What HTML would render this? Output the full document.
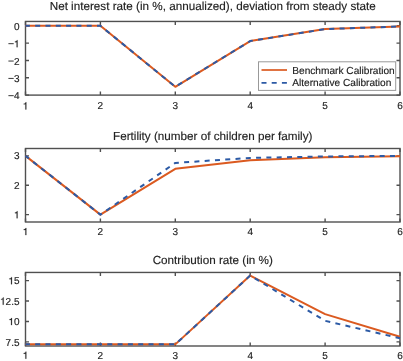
<!DOCTYPE html>
<html><head><meta charset="utf-8"><style>
html,body{margin:0;padding:0;background:#fff;}
svg{display:block;filter:blur(0.35px);}
text{font-family:"Liberation Sans",sans-serif;fill:#222;stroke:#222;stroke-width:0.15px;text-rendering:geometricPrecision;}
</style></head><body>
<svg width="403" height="361" viewBox="0 0 403 361">
<rect width="403" height="361" fill="#fff"/>
<text x="212.75" y="10.1" font-size="11.7" text-anchor="middle">Net interest rate (in %, annualized), deviation from steady state</text>
<rect x="25.5" y="21.45" width="374.50" height="73.65" fill="none" stroke="#505050" stroke-width="1.4"/>
<path transform="translate(22.72,109.40) scale(0.01,-0.01)" d="M271,0L359,0L359,703L294,703C281,652 260,620 222,598C190,580 150,572 101,570L101,505L271,505Z" fill="#222" stroke="#222" stroke-width="22.0"/>
<text transform="translate(97.62,109.40) scale(1,1)" font-size="10" stroke="#222" stroke-width="0.22">2</text>
<text transform="translate(172.52,109.40) scale(1,1)" font-size="10" stroke="#222" stroke-width="0.22">3</text>
<text transform="translate(247.42,109.40) scale(1,1)" font-size="10" stroke="#222" stroke-width="0.22">4</text>
<text transform="translate(322.32,109.40) scale(1,1)" font-size="10" stroke="#222" stroke-width="0.22">5</text>
<text transform="translate(397.22,109.40) scale(1,1)" font-size="10" stroke="#222" stroke-width="0.22">6</text>
<text transform="translate(13.94,29.88) scale(1,1)" font-size="10" stroke="#222" stroke-width="0.22">0</text>
<rect x="8.40" y="43.26" width="5.3" height="0.9" fill="#222"/><path transform="translate(13.94,47.21) scale(0.01,-0.01)" d="M271,0L359,0L359,703L294,703C281,652 260,620 222,598C190,580 150,572 101,570L101,505L271,505Z" fill="#222" stroke="#222" stroke-width="22.0"/>
<rect x="8.40" y="60.59" width="5.3" height="0.9" fill="#222"/><text transform="translate(13.94,64.54) scale(1,1)" font-size="10" stroke="#222" stroke-width="0.22">2</text>
<rect x="8.40" y="77.92" width="5.3" height="0.9" fill="#222"/><text transform="translate(13.94,81.87) scale(1,1)" font-size="10" stroke="#222" stroke-width="0.22">3</text>
<rect x="8.40" y="95.25" width="5.3" height="0.9" fill="#222"/><text transform="translate(13.94,99.20) scale(1,1)" font-size="10" stroke="#222" stroke-width="0.22">4</text>
<path d="M25.50,95.1v-3.5M25.50,21.45v3.5M100.40,95.1v-3.5M100.40,21.45v3.5M175.30,95.1v-3.5M175.30,21.45v3.5M250.20,95.1v-3.5M250.20,21.45v3.5M325.10,95.1v-3.5M325.10,21.45v3.5M400.00,95.1v-3.5M400.00,21.45v3.5M25.5,25.78h3.5M400.0,25.78h-3.5M25.5,43.11h3.5M400.0,43.11h-3.5M25.5,60.44h3.5M400.0,60.44h-3.5M25.5,77.77h3.5M400.0,77.77h-3.5M25.5,95.10h3.5M400.0,95.10h-3.5" stroke="#505050" stroke-width="1.4" fill="none"/>
<polyline points="25.50,25.78 100.40,25.78 175.30,86.78 250.20,41.03 325.10,29.07 400.00,26.48" fill="none" stroke="#DB5A20" stroke-width="2" stroke-linejoin="round"/>
<polyline points="25.50,25.78 100.40,25.78 175.30,86.78 250.20,41.03 325.10,29.07 400.00,26.48" fill="none" stroke="#2C5AA5" stroke-width="2" stroke-dasharray="5 5.3" stroke-dashoffset="0.6" stroke-linejoin="round"/>
<text x="212.75" y="140.2" font-size="11.7" text-anchor="middle">Fertility (number of children per family)</text>
<rect x="25.5" y="148.5" width="374.50" height="73.50" fill="none" stroke="#505050" stroke-width="1.4"/>
<path transform="translate(22.72,235.10) scale(0.01,-0.01)" d="M271,0L359,0L359,703L294,703C281,652 260,620 222,598C190,580 150,572 101,570L101,505L271,505Z" fill="#222" stroke="#222" stroke-width="22.0"/>
<text transform="translate(97.62,235.10) scale(1,1)" font-size="10" stroke="#222" stroke-width="0.22">2</text>
<text transform="translate(172.52,235.10) scale(1,1)" font-size="10" stroke="#222" stroke-width="0.22">3</text>
<text transform="translate(247.42,235.10) scale(1,1)" font-size="10" stroke="#222" stroke-width="0.22">4</text>
<text transform="translate(322.32,235.10) scale(1,1)" font-size="10" stroke="#222" stroke-width="0.22">5</text>
<text transform="translate(397.22,235.10) scale(1,1)" font-size="10" stroke="#222" stroke-width="0.22">6</text>
<text transform="translate(13.94,159.45) scale(1,1)" font-size="10" stroke="#222" stroke-width="0.22">3</text>
<text transform="translate(13.94,188.85) scale(1,1)" font-size="10" stroke="#222" stroke-width="0.22">2</text>
<path transform="translate(13.94,218.25) scale(0.01,-0.01)" d="M271,0L359,0L359,703L294,703C281,652 260,620 222,598C190,580 150,572 101,570L101,505L271,505Z" fill="#222" stroke="#222" stroke-width="22.0"/>
<path d="M25.50,222.0v-3.5M25.50,148.5v3.5M100.40,222.0v-3.5M100.40,148.5v3.5M175.30,222.0v-3.5M175.30,148.5v3.5M250.20,222.0v-3.5M250.20,148.5v3.5M325.10,222.0v-3.5M325.10,148.5v3.5M400.00,222.0v-3.5M400.00,148.5v3.5M25.5,155.85h3.5M400.0,155.85h-3.5M25.5,185.25h3.5M400.0,185.25h-3.5M25.5,214.65h3.5M400.0,214.65h-3.5" stroke="#505050" stroke-width="1.4" fill="none"/>
<polyline points="25.50,155.85 100.40,214.65 175.30,168.79 250.20,160.26 325.10,157.32 400.00,156.14" fill="none" stroke="#DB5A20" stroke-width="2" stroke-linejoin="round"/>
<polyline points="25.50,155.85 100.40,214.65 175.30,162.91 250.20,157.91 325.10,156.44 400.00,155.85" fill="none" stroke="#2C5AA5" stroke-width="2" stroke-dasharray="5 5.3" stroke-dashoffset="0.6" stroke-linejoin="round"/>
<text x="212.75" y="264.3" font-size="11.7" text-anchor="middle">Contribution rate (in %)</text>
<rect x="25.5" y="272.45" width="374.50" height="73.55" fill="none" stroke="#505050" stroke-width="1.4"/>
<path transform="translate(22.72,358.70) scale(0.01,-0.01)" d="M271,0L359,0L359,703L294,703C281,652 260,620 222,598C190,580 150,572 101,570L101,505L271,505Z" fill="#222" stroke="#222" stroke-width="22.0"/>
<text transform="translate(97.62,358.70) scale(1,1)" font-size="10" stroke="#222" stroke-width="0.22">2</text>
<text transform="translate(172.52,358.70) scale(1,1)" font-size="10" stroke="#222" stroke-width="0.22">3</text>
<text transform="translate(247.42,358.70) scale(1,1)" font-size="10" stroke="#222" stroke-width="0.22">4</text>
<text transform="translate(322.32,358.70) scale(1,1)" font-size="10" stroke="#222" stroke-width="0.22">5</text>
<text transform="translate(397.22,358.70) scale(1,1)" font-size="10" stroke="#222" stroke-width="0.22">6</text>
<path transform="translate(8.38,284.22) scale(0.01,-0.01)" d="M271,0L359,0L359,703L294,703C281,652 260,620 222,598C190,580 150,572 101,570L101,505L271,505Z" fill="#222" stroke="#222" stroke-width="22.0"/><text transform="translate(13.94,284.22) scale(1,1)" font-size="10" stroke="#222" stroke-width="0.22">5</text>
<path transform="translate(0.04,304.65) scale(0.01,-0.01)" d="M271,0L359,0L359,703L294,703C281,652 260,620 222,598C190,580 150,572 101,570L101,505L271,505Z" fill="#222" stroke="#222" stroke-width="22.0"/><text transform="translate(5.60,304.65) scale(1,1)" font-size="10" stroke="#222" stroke-width="0.22">2.5</text>
<path transform="translate(8.38,325.08) scale(0.01,-0.01)" d="M271,0L359,0L359,703L294,703C281,652 260,620 222,598C190,580 150,572 101,570L101,505L271,505Z" fill="#222" stroke="#222" stroke-width="22.0"/><text transform="translate(13.94,325.08) scale(1,1)" font-size="10" stroke="#222" stroke-width="0.22">0</text>
<text transform="translate(5.60,345.51) scale(1,1)" font-size="10" stroke="#222" stroke-width="0.22">7.5</text>
<path d="M25.50,346.0v-3.5M25.50,272.45v3.5M100.40,346.0v-3.5M100.40,272.45v3.5M175.30,346.0v-3.5M175.30,272.45v3.5M250.20,346.0v-3.5M250.20,272.45v3.5M325.10,346.0v-3.5M325.10,272.45v3.5M400.00,346.0v-3.5M400.00,272.45v3.5M25.5,280.62h3.5M400.0,280.62h-3.5M25.5,301.05h3.5M400.0,301.05h-3.5M25.5,321.48h3.5M400.0,321.48h-3.5M25.5,341.91h3.5M400.0,341.91h-3.5" stroke="#505050" stroke-width="1.4" fill="none"/>
<polyline points="25.50,344.37 100.40,344.37 175.30,344.37 250.20,275.56 325.10,314.13 400.00,336.68" fill="none" stroke="#DB5A20" stroke-width="2" stroke-linejoin="round"/>
<polyline points="25.50,344.37 100.40,344.37 175.30,344.37 250.20,275.56 325.10,320.83 400.00,338.24" fill="none" stroke="#2C5AA5" stroke-width="2" stroke-dasharray="5 5.3" stroke-dashoffset="0.6" stroke-linejoin="round"/>
<rect x="258.5" y="61.8" width="137.2" height="28.6" fill="#fff" stroke="#999" stroke-width="1"/>
<line x1="261.5" y1="70" x2="287" y2="70" stroke="#DB5A20" stroke-width="1.7"/>
<line x1="261.5" y1="82.9" x2="287" y2="82.9" stroke="#2C5AA5" stroke-width="1.7" stroke-dasharray="5 5.2"/>
<text x="292.3" y="73.8" font-size="10.15">Benchmark Calibration</text>
<text x="292.3" y="86.4" font-size="10.15">Alternative Calibration</text>
</svg>
</body></html>
